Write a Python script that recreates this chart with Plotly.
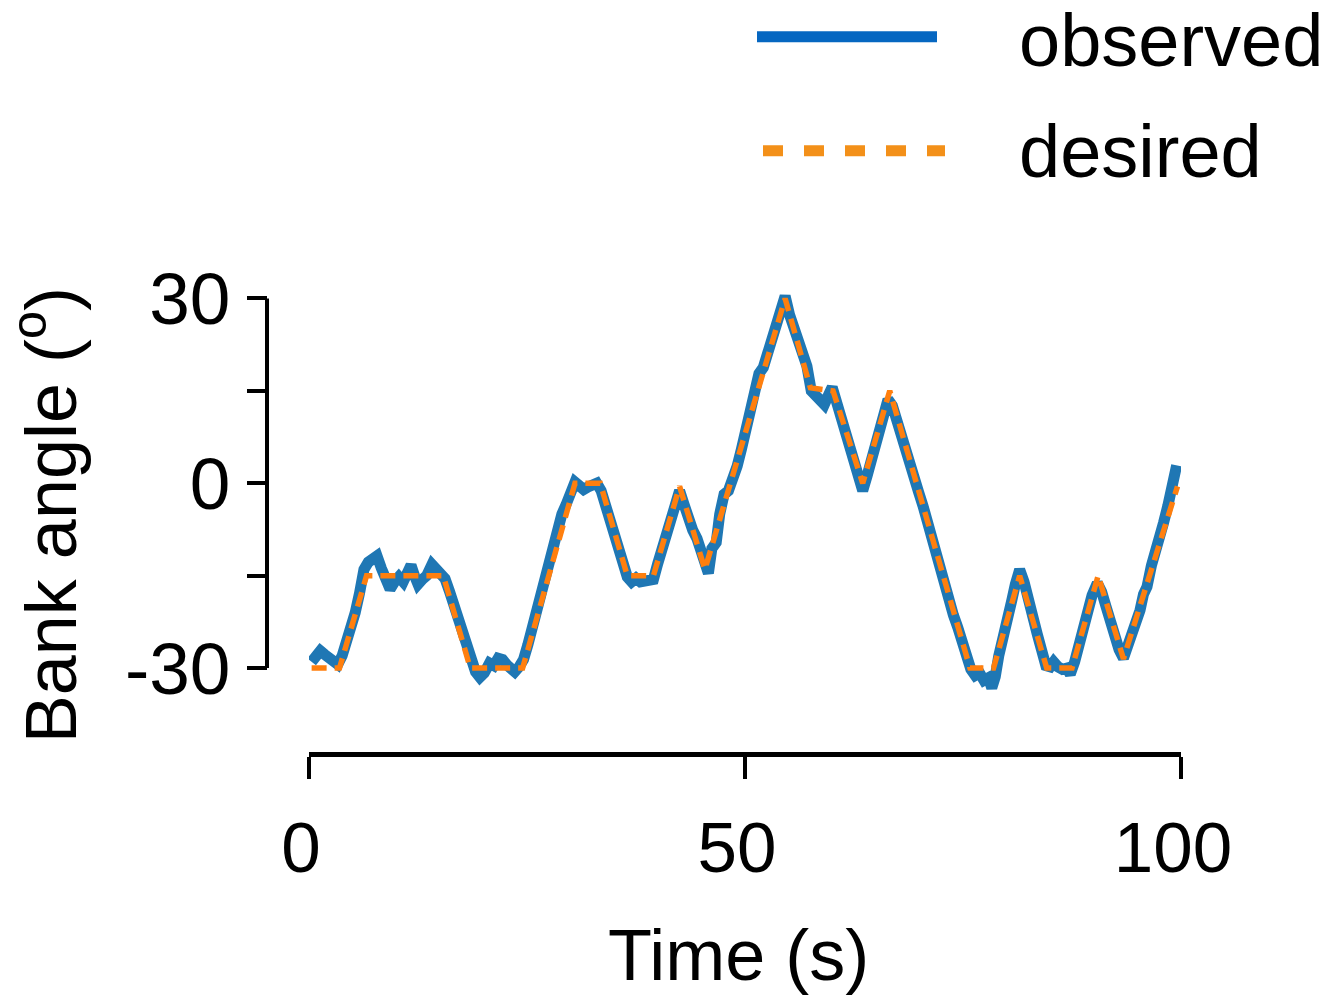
import plotly.graph_objects as go

# Commanded bank angle: piecewise-linear profile (time in s, angle in degrees)
desired_time = [0.3, 3.5, 6.6, 15.4, 18.5, 24.5, 30.5, 33.4, 36.5, 39.5, 42.5,
                45.4, 54.6, 57.5, 60.1, 63.5, 66.6, 75.8, 78.5, 81.5, 84.6,
                87.5, 90.5, 93.4, 99.6]
desired_angle = [-30, -30, -15, -15, -30, -30, 0, 0, -15, -15, -0.5,
                 -14, 30, 15.5, 15, 0, 15, -30, -30, -15, -30,
                 -30, -15, -28.5, -0.5]

# Measured bank angle
observed_time = [
    0.3, 0.8, 1.3, 1.8, 2.3, 2.8, 3.3, 3.8, 4.3, 4.8, 5.3, 5.8, 6.3, 6.8, 7.3,
    7.8, 8.3, 8.8, 9.3, 9.8, 10.3, 10.8, 11.3, 11.7, 12.1, 12.5, 13.0, 13.5,
    14.1, 14.6, 15.1, 15.6, 16.1, 16.6, 17.1, 17.6, 18.1, 18.6, 19.1, 19.6,
    20.1, 20.7, 21.2, 21.7, 22.2, 22.7, 23.2, 23.6, 24.1, 24.6, 25.1, 25.6,
    26.1, 26.6, 27.0, 27.5, 28.0, 28.5, 29.0, 29.5, 30.0, 30.5, 31.0, 31.5,
    32.0, 32.5, 33.0, 33.5, 34.0, 34.5, 35.0, 35.5, 36.0, 36.5, 37.0, 37.5,
    38.0, 38.5, 39.0, 39.5, 40.0, 40.5, 41.0, 41.5, 42.0, 42.5, 43.0, 43.5,
    44.0, 44.5, 45.0, 45.4, 45.8, 46.2, 46.7, 47.1, 47.6, 48.1, 48.6, 49.1,
    49.6, 50.1, 50.6, 51.1, 51.6, 52.1, 52.6, 53.1, 53.6, 54.1, 54.6, 55.1,
    55.6, 56.1, 56.6, 57.1, 57.6, 58.1, 58.6, 59.1, 59.6, 60.0, 60.5, 61.0,
    61.5, 62.0, 62.5, 63.0, 63.5, 64.0, 64.5, 65.0, 65.5, 66.0, 66.4, 66.9,
    67.4, 67.9, 68.4, 68.9, 69.4, 69.9, 70.4, 70.9, 71.4, 71.9, 72.4, 72.9,
    73.4, 73.9, 74.4, 74.9, 75.4, 75.9, 76.4, 76.9, 77.4, 77.9, 78.3, 78.7,
    79.1, 79.6, 80.1, 80.6, 81.0, 81.5, 82.0, 82.5, 83.0, 83.5, 84.0, 84.5,
    85.0, 85.4, 85.9, 86.4, 86.9, 87.3, 87.8, 88.3, 88.8, 89.3, 89.8, 90.4,
    90.9, 91.4, 91.9, 92.4, 92.9, 93.4, 93.9, 94.4, 94.9, 95.3, 95.7, 96.1,
    96.6, 97.1, 97.5, 98.0, 98.5, 99.0, 99.5]
observed_angle = [
    -29.0, -28.0, -27.2, -27.8, -28.2, -28.8, -29.4, -28.0, -26.0, -23.8,
    -21.0, -17.8, -14.0, -12.8, -12.0, -11.8, -13.8, -16.2, -17.2, -16.0,
    -15.2, -16.0, -14.2, -13.3, -15.0, -16.4, -15.6, -15.0, -13.2, -14.2,
    -14.6, -15.5, -17.5, -19.8, -22.0, -24.6, -27.0, -29.2, -30.6, -31.5,
    -30.8, -29.2, -29.6, -28.4, -28.6, -29.5, -30.4, -30.6, -29.8, -28.6,
    -26.2, -23.4, -21.0, -18.5, -17.0, -14.2, -11.2, -7.6, -5.0, -3.4,
    -1.4, 0.2, -0.4, -1.0, -0.6, -0.2, 0.0, -1.2, -3.6, -6.0,
    -8.4, -10.6, -13.2, -15.2, -16.0, -15.4, -16.0, -15.8, -15.4, -15.6,
    -13.0, -10.6, -8.2, -5.6, -3.0, -1.2, -3.4, -5.8, -7.6, -9.0,
    -11.0, -13.6, -14.6, -10.6, -9.6, -5.0, -1.8, -1.2, 0.4, 2.8,
    5.6, 9.0, 12.6, 14.6, 17.8, 18.8, 21.0, 23.0, 25.4, 28.4,
    30.4, 27.4, 25.2, 23.4, 22.0, 19.0, 15.0, 14.2, 13.4, 12.8,
    14.4, 15.6, 13.2, 10.6, 8.8, 6.4, 4.2, 1.4, -1.2, 1.2,
    3.6, 5.8, 9.0, 11.6, 13.6, 12.6, 10.0, 7.8, 5.4, 3.2,
    1.0, -1.4, -3.6, -6.2, -9.6, -12.4, -14.0, -16.4, -19.0, -21.4,
    -23.4, -25.8, -28.4, -30.2, -31.2, -30.8, -32.0, -31.6, -33.2, -31.4,
    -28.0, -25.4, -22.8, -19.0, -16.4, -14.0, -16.0, -19.4, -21.8, -24.4,
    -27.0, -29.6, -29.8, -29.0, -29.8, -30.2, -30.0, -31.0, -29.0, -26.2,
    -22.6, -20.6, -18.2, -16.2, -17.6, -20.0, -22.8, -25.0, -27.0, -28.4,
    -26.6, -24.2, -22.0, -20.6, -18.0, -16.8, -13.4, -10.2, -8.6, -6.4,
    -3.6, -0.8, 2.9]

x_ticks = [0, 50, 100]
y_ticks = [-30, 0, 30]
y_tick_text = ["-30", "0", "30"]
y_minor_ticks = [-15, 15]

FONT = "Liberation Sans, Arial, Helvetica, sans-serif"
BLUE = "#1f77b4"
ORANGE = "#ff7f0e"

W, H = 1331, 996
ML, MR, MT, MB = 267, 150, 279.5, 242
PW, PH = W - ML - MR, H - MT - MB


def px_x(px):
    return (px - ML) / PW


def px_y(py):
    return (H - MB - py) / PH


fig = go.Figure()
fig.add_trace(go.Scatter(
    x=observed_time, y=observed_angle, mode="lines", name="observed",
    line=dict(color=BLUE, width=11), showlegend=False))
fig.add_trace(go.Scatter(
    x=desired_time, y=desired_angle, mode="lines", name="desired",
    line=dict(color=ORANGE, width=5.5, dash="15px,8px"), showlegend=False))

# Left spine limited to the labelled span
fig.add_shape(type="line", xref="paper", yref="y", x0=0, x1=0,
              y0=y_ticks[0], y1=y_ticks[-1],
              line=dict(color="black", width=4))

# Legend keys
fig.add_shape(type="line", xref="paper", yref="paper",
              x0=px_x(757), x1=px_x(937), y0=px_y(36), y1=px_y(36),
              line=dict(color="#0667c1", width=11))
fig.add_shape(type="line", xref="paper", yref="paper",
              x0=px_x(763), x1=px_x(945), y0=px_y(150), y1=px_y(150),
              line=dict(color="#f39019", width=11, dash="20px,21px"))
for label, yc in (("observed", 40), ("desired", 151)):
    fig.add_annotation(text=label, xref="paper", yref="paper",
                       x=px_x(1017), y=px_y(yc), xanchor="left",
                       yanchor="middle", showarrow=False,
                       font=dict(family=FONT, size=74, color="black"))

# Axis titles
fig.add_annotation(text="Time (s)", xref="paper", yref="paper",
                   x=px_x(738), y=px_y(955), xanchor="center",
                   yanchor="middle", showarrow=False,
                   font=dict(family=FONT, size=72, color="black"))
fig.add_annotation(text="Bank angle (<sup>o</sup>)", xref="paper",
                   yref="paper", x=px_x(45), y=px_y(515), textangle=-90,
                   xanchor="center", yanchor="middle", showarrow=False,
                   font=dict(family=FONT, size=72, color="black"))

fig.update_layout(
    width=W, height=H,
    margin=dict(l=ML, r=MR, t=MT, b=MB, pad=0),
    paper_bgcolor="white", plot_bgcolor="white",
    font=dict(family=FONT, color="black"),
    showlegend=False,
    xaxis=dict(
        range=[0, 100], domain=[px_x(309), 1], anchor="free", position=0,
        showgrid=False, zeroline=False, showline=True, linewidth=4.5,
        linecolor="black", ticks="outside", ticklen=22, tickwidth=4,
        tickcolor="black", tickvals=x_ticks, ticklabelstandoff=8,
        ticklabelshift=-8,
        tickfont=dict(family=FONT, size=71, color="black")),
    yaxis=dict(
        range=[-36, 33], domain=[px_y(705), 1], anchor="free", position=0,
        showgrid=False, zeroline=False, showline=False, ticks="outside",
        ticklen=20, tickwidth=4, tickcolor="black", tickvals=y_ticks,
        ticktext=y_tick_text, ticklabelstandoff=2,
        minor=dict(tickvals=y_minor_ticks, ticks="outside", ticklen=20,
                   tickwidth=4, tickcolor="black", showgrid=False),
        tickfont=dict(family=FONT, size=73, color="black")),
)

fig.write_html("out.html")
